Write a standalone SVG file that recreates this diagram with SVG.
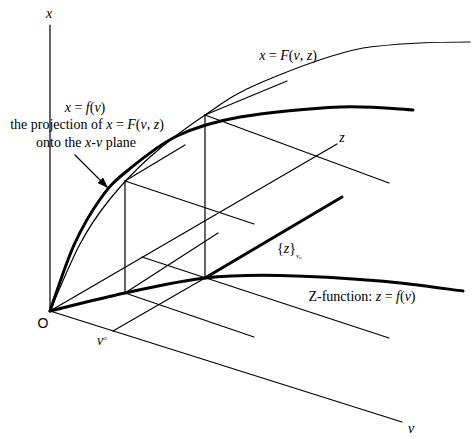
<svg xmlns="http://www.w3.org/2000/svg" width="474" height="439" viewBox="0 0 474 439">
<style>
.t{font-family:"Liberation Serif","Times New Roman",serif;font-size:14px;fill:#000}
.i{font-style:italic}
.s{font-family:"Liberation Sans",Arial,sans-serif;font-size:14px;fill:#000}
.thin{fill:none;stroke:#000;stroke-width:1.2;stroke-linecap:round}
.bold{fill:none;stroke:#000;stroke-width:3;stroke-linecap:round;stroke-linejoin:round}
</style>
<defs>
<marker id="ah" markerUnits="userSpaceOnUse" markerWidth="12" markerHeight="8" refX="11" refY="4" orient="auto">
<path d="M0,0 L11,4 L0,8 Z" fill="#000"/>
</marker>
</defs>
<rect width="474" height="439" fill="#fff"/>
<g id="connectors">
<g id="axes">
<line class="thin" x1="50" y1="311" x2="50" y2="25"/>
<line class="thin" x1="50" y1="311" x2="402" y2="422"/>
<line class="thin" x1="50" y1="311" x2="337" y2="144"/>
</g>
<g id="guides">
<line class="thin" x1="113" y1="331" x2="205" y2="278"/>
<line class="thin" x1="125" y1="293" x2="125" y2="181"/>
<line class="thin" x1="205" y1="278" x2="205" y2="115"/>
<line class="thin" x1="125" y1="293" x2="254" y2="337"/>
<line class="thin" x1="125" y1="293" x2="218" y2="233"/>
<line class="thin" x1="142" y1="257" x2="389" y2="338"/>
<line class="thin" x1="125" y1="181" x2="254" y2="224"/>
<line class="thin" x1="125" y1="181" x2="185" y2="145"/>
<line class="thin" x1="205" y1="115" x2="389" y2="183"/>
<line class="thin" x1="205" y1="115" x2="287" y2="81"/>
</g>
<g id="curves">
<path id="F-curve" class="thin" d="M50,311 C55,299.8 70,262.7 80,244 C90,225.3 98.3,213.5 110,199 C121.7,184.5 134.2,171 150,157 C165.8,143 186.7,127.3 205,115 C223.3,102.7 233.7,94.2 260,83 C286.3,71.8 328,54.8 363,48 C398,43 445,42 470,42"/>
<path id="f-curve" class="bold" d="M50,311 C54,300 65.5,263.8 74,245 C82.5,226.2 92.2,210.3 101,198 C109.8,185.7 114.3,181.3 127,171 C139.7,160.7 158.2,145 177,136 C195.8,127 212.8,121.8 240,117 C267.2,112.2 311.2,108.2 340,107 C368.8,105.8 400.8,109.5 413,110"/>
<path id="Z-function" class="bold" stroke-width="2.6" d="M50,311 C62.5,308 99.2,298.5 125,293 C150.8,287.5 179.2,280.9 205,278 C230.8,275.1 250.8,275 280,275.5 C309.2,276 349.5,278.4 380,281 C410.5,283.6 449.2,289.3 463,291"/>
<line id="z-line" class="bold" x1="205" y1="278" x2="342" y2="197"/>
</g>
<line id="arrow" class="thin" x1="75" y1="155" x2="108" y2="188" marker-end="url(#ah)"/>
</g>
<g id="labels">
<text class="t i" x="49" y="18" font-size="16" text-anchor="middle">x</text>
<text class="t" x="85" y="112" text-anchor="middle"><tspan class="i">x</tspan> = <tspan class="i">f</tspan>(<tspan class="i">v</tspan>)</text>
<text class="t" x="87" y="129" text-anchor="middle">the projection of <tspan class="i">x</tspan> = <tspan class="i">F</tspan>(<tspan class="i">v</tspan>, <tspan class="i">z</tspan>)</text>
<text class="t" x="86" y="147" text-anchor="middle">onto the <tspan class="i">x</tspan>-<tspan class="i">v</tspan> plane</text>
<text class="t" x="288" y="60" text-anchor="middle"><tspan class="i">x</tspan> = <tspan class="i">F</tspan>(<tspan class="i">v</tspan>, <tspan class="i">z</tspan>)</text>
<text class="t i" x="342" y="142" text-anchor="middle">z</text>
<text class="t" x="277" y="253" font-size="15">{<tspan class="i">z</tspan>}<tspan class="i" font-size="7" dy="5">v</tspan><tspan font-size="5" dy="1">o</tspan></text>
<text class="t" x="362" y="301" text-anchor="middle">Z-function: <tspan class="i">z</tspan> = <tspan class="i">f</tspan>(<tspan class="i">v</tspan>)</text>
<text class="s" x="43" y="328" text-anchor="middle">O</text>
<text class="t" x="97" y="345" font-size="12"><tspan class="i">v</tspan><tspan font-size="7" dy="-5">o</tspan></text>
<text class="t i" x="411" y="433" font-size="16" text-anchor="middle">v</text>
</g>
</svg>
